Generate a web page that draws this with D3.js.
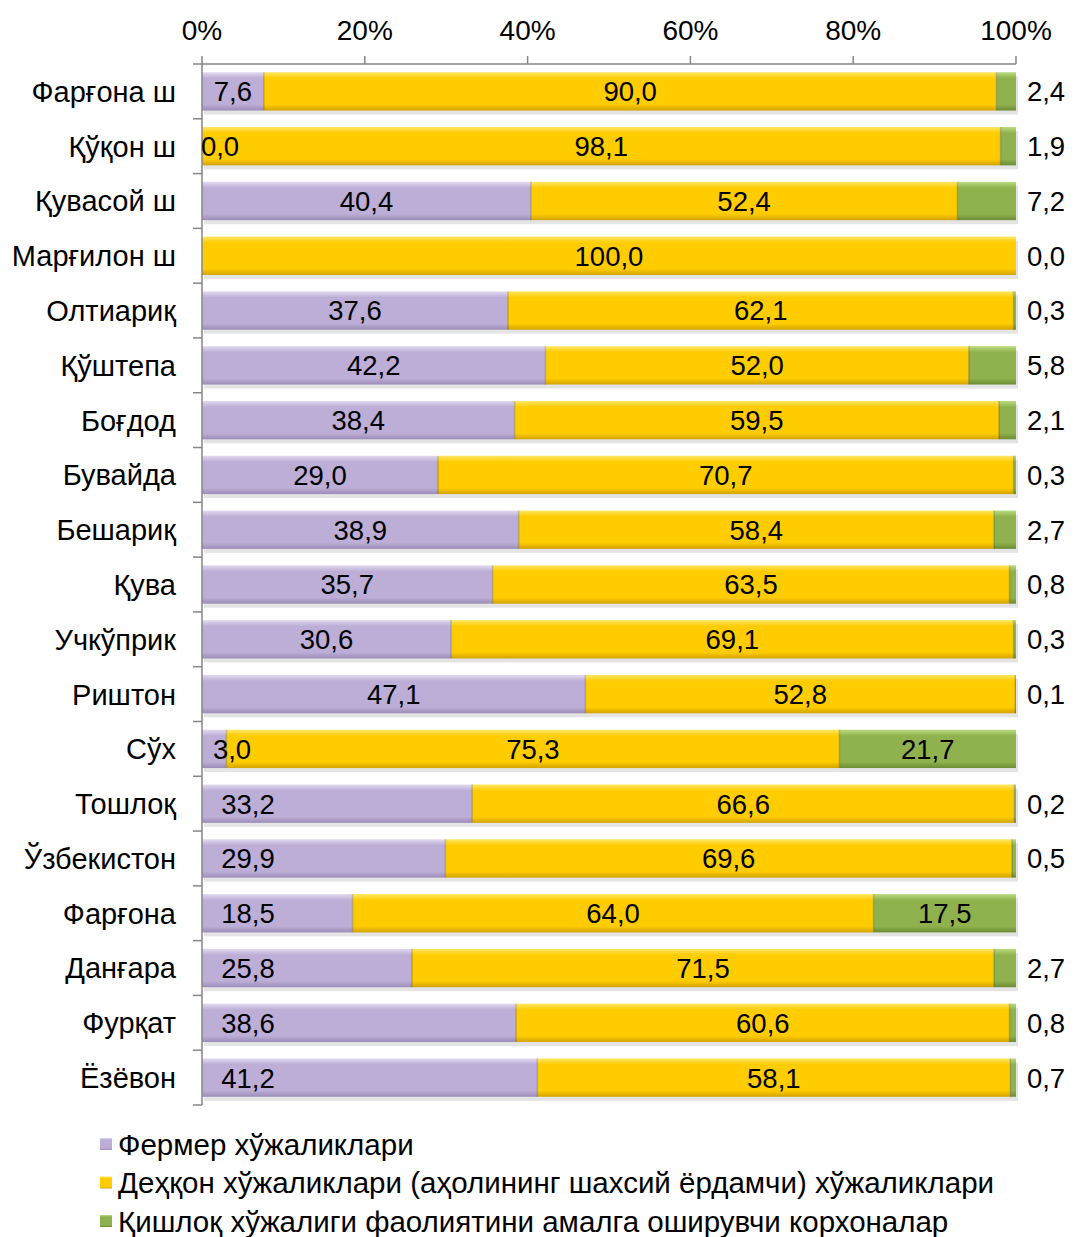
<!DOCTYPE html>
<html>
<head>
<meta charset="utf-8">
<script src="https://cdn.jsdelivr.net/npm/d3@7"></script>
<style>
  body { margin: 0; background: #fff; }
  text { font-family: "Liberation Sans", Arial, sans-serif; fill: #000; }
</style>
</head>
<body>
<div id="chart"></div>
<script>
const districts = ["Фарғона ш", "Қўқон ш", "Қувасой ш", "Марғилон ш", "Олтиариқ", "Қўштепа",
  "Боғдод", "Бувайда", "Бешариқ", "Қува", "Учкўприк", "Риштон", "Сўх", "Тошлоқ",
  "Ўзбекистон", "Фарғона", "Данғара", "Фурқат", "Ёзёвон"];
const farmer = [7.6, 0.0, 40.4, 0.0, 37.6, 42.2, 38.4, 29.0, 38.9, 35.7, 30.6, 47.1, 3.0, 33.2, 29.9, 18.5, 25.8, 38.6, 41.2];
const dehqon = [90.0, 98.1, 52.4, 100.0, 62.1, 52.0, 59.5, 70.7, 58.4, 63.5, 69.1, 52.8, 75.3, 66.6, 69.6, 64.0, 71.5, 60.6, 58.1];
const korxona = [2.4, 1.9, 7.2, 0.0, 0.3, 5.8, 2.1, 0.3, 2.7, 0.8, 0.3, 0.1, 21.7, 0.2, 0.5, 17.5, 2.7, 0.8, 0.7];
const seriesNames = ["Фермер хўжаликлари",
  "Деҳқон хўжаликлари (аҳолининг шахсий ёрдамчи) хўжаликлари",
  "Қишлоқ хўжалиги фаолиятини амалга оширувчи корхоналар"];
const xTicks = [0, 20, 40, 60, 80, 100];

const width = 1075, height = 1237;
const plotLeft = 202, plotRight = 1016, plotTop = 64, plotBottom = 1105;

const colors = [
  { light: "#e2daf0", base: "#bcaed6", dark: "#9c8cb9" },
  { light: "#ffe766", base: "#ffcc00", dark: "#d4a300" },
  { light: "#bcdc80", base: "#8fb24e", dark: "#6b8c33" }
];

const svg = d3.select("#chart").append("svg")
  .attr("width", width).attr("height", height);

const defs = svg.append("defs");
colors.forEach(function(c, i) {
  const g = defs.append("linearGradient").attr("id", "g" + i)
    .attr("x1", 0).attr("y1", 0).attr("x2", 0).attr("y2", 1);
  g.append("stop").attr("offset", "0%").attr("stop-color", c.light);
  g.append("stop").attr("offset", "16%").attr("stop-color", c.base);
  g.append("stop").attr("offset", "84%").attr("stop-color", c.base);
  g.append("stop").attr("offset", "100%").attr("stop-color", c.dark);
});

const x = d3.scaleLinear().domain([0, 100]).range([plotLeft, plotRight]);
const y = d3.scaleBand().domain(districts).range([plotTop, plotBottom]).paddingInner(0.3).paddingOuter(0.15);

const rows = districts.map(function(d, i) {
  return { name: d, i: i, vals: [farmer[i], dehqon[i], korxona[i]] };
});
const segs = [];
rows.forEach(function(r) {
  let acc = 0;
  r.vals.forEach(function(v, k) {
    segs.push({ name: r.name, i: r.i, k: k, v: v, x0: acc, x1: acc + v });
    acc += v;
  });
});

// shadows
svg.append("g").selectAll("rect").data(rows).enter().append("rect")
  .attr("x", x(0) + 2)
  .attr("y", function(d) { return y(d.name) + 4; })
  .attr("width", x(100) - x(0))
  .attr("height", y.bandwidth())
  .attr("fill", "#e4e4e4");

// bars
svg.append("g").selectAll("rect").data(segs.filter(function(s) { return s.v > 0; })).enter().append("rect")
  .attr("x", function(d) { return x(d.x0); })
  .attr("y", function(d) { return y(d.name); })
  .attr("width", function(d) { return Math.min(x(d.x1), x(100)) - x(d.x0); })
  .attr("height", y.bandwidth())
  .attr("fill", function(d) { return "url(#g" + d.k + ")"; });

// divider lines between segments
svg.append("g").selectAll("line").data(segs.filter(function(s) { return s.k > 0 && s.v > 0 && s.x0 > 0; })).enter().append("line")
  .attr("x1", function(d) { return x(d.x0); })
  .attr("x2", function(d) { return x(d.x0); })
  .attr("y1", function(d) { return y(d.name); })
  .attr("y2", function(d) { return y(d.name) + y.bandwidth(); })
  .attr("stroke", "rgba(0,0,0,0.18)").attr("stroke-width", 1.5);

// axes
const xAxis = svg.append("g");
xAxis.append("line").attr("x1", x(0)).attr("x2", x(100)).attr("y1", plotTop).attr("y2", plotTop)
  .attr("stroke", "#868686").attr("stroke-width", 1.5);
xAxis.selectAll("line.t").data(xTicks).enter().append("line").attr("class", "t")
  .attr("x1", function(d) { return x(d); }).attr("x2", function(d) { return x(d); })
  .attr("y1", plotTop - 8).attr("y2", plotTop)
  .attr("stroke", "#868686").attr("stroke-width", 1.5);
xAxis.selectAll("text").data(xTicks).enter().append("text")
  .attr("x", function(d) { return x(d); }).attr("y", 40)
  .attr("text-anchor", "middle").attr("font-size", 28)
  .text(function(d) { return d + "%"; });

const yAxis = svg.append("g");
yAxis.append("line").attr("x1", plotLeft).attr("x2", plotLeft).attr("y1", plotTop).attr("y2", plotBottom)
  .attr("stroke", "#868686").attr("stroke-width", 1.5);
const bounds = d3.range(districts.length + 1).map(function(i) { return plotTop + i * (plotBottom - plotTop) / districts.length; });
yAxis.selectAll("line.t").data(bounds).enter().append("line").attr("class", "t")
  .attr("x1", plotLeft - 9).attr("x2", plotLeft)
  .attr("y1", function(d) { return d; }).attr("y2", function(d) { return d; })
  .attr("stroke", "#868686").attr("stroke-width", 1.5);
yAxis.selectAll("text").data(districts).enter().append("text")
  .attr("x", 176)
  .attr("y", function(d) { return y(d) + y.bandwidth() / 2; })
  .attr("dy", "0.36em")
  .attr("text-anchor", "end").attr("font-size", 29)
  .text(function(d) { return d; });

// data labels
const fmt = function(v) { return v.toFixed(1).replace(".", ","); };
function labelX(d) {
  if (d.k === 2) return d.v >= 10 ? x(d.x0 + d.v / 2) : x(100) + 30;
  if (d.k === 0 && d.v < 5) return x(0) + 18 + d.v * 4;
  if (d.k === 0 && d.i >= 13) return x(0) + 46;
  return x(d.x0 + d.v / 2);
}
svg.append("g").selectAll("text")
  .data(segs.filter(function(s) { return !(s.k === 0 && s.v === 0 && s.i === 3); }))
  .enter().append("text")
  .attr("x", labelX)
  .attr("y", function(d) { return y(d.name) + y.bandwidth() / 2; })
  .attr("dy", "0.36em")
  .attr("text-anchor", "middle").attr("font-size", 27.5)
  .text(function(d) { return fmt(d.v); });

// legend
const legend = svg.append("g").selectAll("g").data(seriesNames).enter().append("g")
  .attr("transform", function(d, i) { return "translate(100," + (1144 + i * 38.5) + ")"; });
legend.append("rect").attr("x", 0).attr("y", -6).attr("width", 12).attr("height", 12)
  .attr("fill", function(d, i) { return "url(#g" + i + ")"; });
legend.append("text").attr("x", 18).attr("dy", "0.36em").attr("font-size", 29.5)
  .text(function(d) { return d; });
</script>
</body>
</html>
